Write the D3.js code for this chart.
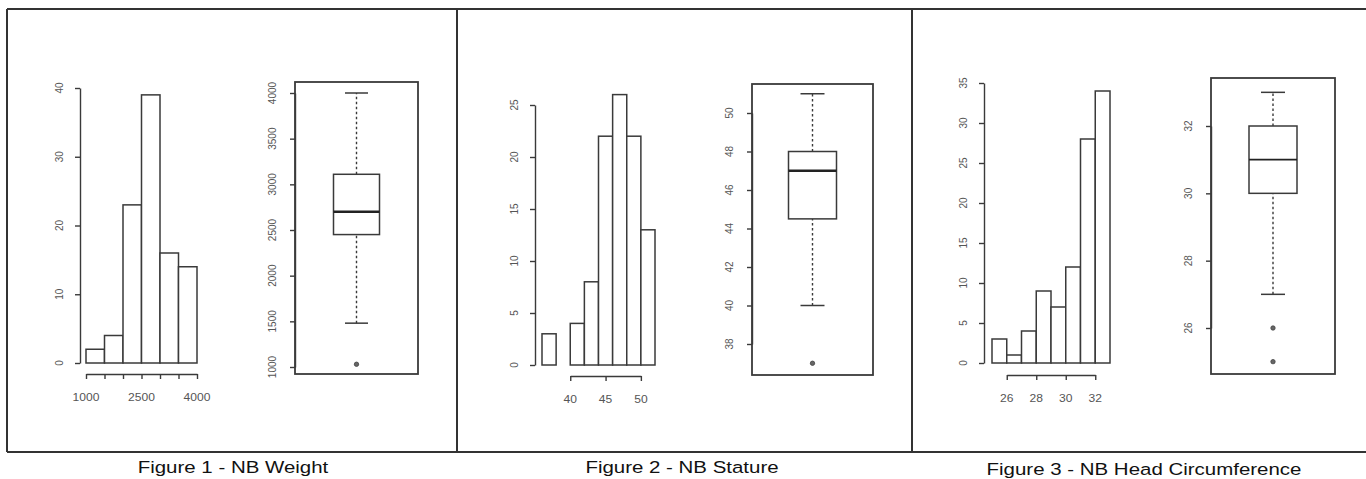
<!DOCTYPE html>
<html>
<head>
<meta charset="utf-8">
<script src="https://cdn.jsdelivr.net/npm/d3@7"></script>
<style>
  html, body { margin: 0; padding: 0; background: #fff; overflow: hidden; }
</style>
</head>
<body>
<div id="chart"></div>
<script>
// ---- data ----
// Figure 1 - NB Weight
var weightBreaks = [1000, 1500, 2000, 2500, 3000, 3500, 4000];
var weightCounts = [2, 4, 23, 39, 16, 14];
var weightHistXTicks = [1000, 1500, 2000, 2500, 3000, 3500, 4000];
var weightHistXLabels = [1000, 2500, 4000];
var weightHistYTicks = [0, 10, 20, 30, 40];
var weightBox = [1480, 2450, 2700, 3110, 4000];   // low whisker, Q1, median, Q3, high whisker
var weightOutliers = [1030];
var weightBoxYTicks = [1000, 1500, 2000, 2500, 3000, 3500, 4000];

// Figure 2 - NB Stature
var statureBreaks = [36, 38, 40, 42, 44, 46, 48, 50, 52];
var statureCounts = [3, 0, 4, 8, 22, 26, 22, 13];
var statureHistXTicks = [40, 45, 50];
var statureHistXLabels = [40, 45, 50];
var statureHistYTicks = [0, 5, 10, 15, 20, 25];
var statureBox = [40, 44.5, 47, 48, 51];
var statureOutliers = [37];
var statureBoxYTicks = [38, 40, 42, 44, 46, 48, 50];

// Figure 3 - NB Head Circumference
var headBreaks = [25, 26, 27, 28, 29, 30, 31, 32, 33];
var headCounts = [3, 1, 4, 9, 7, 12, 28, 34];
var headHistXTicks = [26, 28, 30, 32];
var headHistXLabels = [26, 28, 30, 32];
var headHistYTicks = [0, 5, 10, 15, 20, 25, 30, 35];
var headBox = [27, 30, 31, 32, 33];
var headOutliers = [26, 25];
var headBoxYTicks = [26, 28, 30, 32];

var captions = ["Figure 1 - NB Weight", "Figure 2 - NB Stature", "Figure 3 - NB Head Circumference"];

// ---- layout ----
var W = 1366, H = 479;
var FONT = "'Liberation Sans', Arial, sans-serif";
var LINE = "#3a3a3a";
var LABEL = "#555";

var svg = d3.select("#chart").append("svg")
  .attr("width", W).attr("height", H)
  .style("display", "block")
  .style("background", "#fff");

// outer frame and separators
var FRAME = { left: 7, top: 9, bottom: 452, seps: [457, 912] };
svg.append("line").attr("x1", FRAME.left).attr("x2", W).attr("y1", FRAME.top).attr("y2", FRAME.top)
  .attr("stroke", "#333").attr("stroke-width", 2);
svg.append("line").attr("x1", FRAME.left).attr("x2", W).attr("y1", FRAME.bottom).attr("y2", FRAME.bottom)
  .attr("stroke", "#333").attr("stroke-width", 2);
[FRAME.left].concat(FRAME.seps).forEach(function (x) {
  svg.append("line").attr("x1", x).attr("x2", x).attr("y1", FRAME.top).attr("y2", FRAME.bottom)
    .attr("stroke", "#333").attr("stroke-width", 2);
});

// panel geometry (pixel positions of the plot regions)
var panels = [
  {
    breaks: weightBreaks, counts: weightCounts,
    hxTicks: weightHistXTicks, hxLabels: weightHistXLabels, hyTicks: weightHistYTicks,
    box: weightBox, out: weightOutliers, byTicks: weightBoxYTicks,
    hist: { x: [86, 197], y: [363, 88], axisX: 80, axisY: 374 },
    boxG: { frame: [295, 82, 418, 374], y: [367, 93], hw: 23 },
    medianW: 2.6,
    caption: { x: 233, y: 473 }
  },
  {
    breaks: statureBreaks, counts: statureCounts,
    hxTicks: statureHistXTicks, hxLabels: statureHistXLabels, hyTicks: statureHistYTicks,
    box: statureBox, out: statureOutliers, byTicks: statureBoxYTicks,
    hist: { x: [542, 655], y: [365, 105], axisX: 535, axisY: 376 },
    boxG: { frame: [752, 84, 873, 375], y: [344, 113], hw: 24 },
    medianW: 2.6,
    caption: { x: 682, y: 473 }
  },
  {
    breaks: headBreaks, counts: headCounts,
    hxTicks: headHistXTicks, hxLabels: headHistXLabels, hyTicks: headHistYTicks,
    box: headBox, out: headOutliers, byTicks: headBoxYTicks,
    hist: { x: [992, 1110], y: [363, 83], axisX: 984, axisY: 375 },
    boxG: { frame: [1211, 78, 1335, 374], y: [328, 126], hw: 24 },
    medianW: 1.8,
    caption: { x: 1144, y: 475 }
  }
];

function styleAxis(a) {
  a.select(".domain").attr("stroke", LINE).attr("stroke-width", 1.4);
  a.selectAll(".tick line").attr("stroke", LINE).attr("stroke-width", 1.4);
  a.selectAll(".tick text").remove();
}

function yLabels(g, ticks, ys, cx) {
  g.selectAll(null).data(ticks).enter().append("text")
    .attr("transform", function (d) { return "translate(" + cx + "," + ys(d) + ") rotate(-90)"; })
    .attr("text-anchor", "middle").attr("dominant-baseline", "central")
    .attr("fill", LABEL).attr("font-size", "10px").attr("font-family", FONT)
    .text(function (d) { return d; });
}

panels.forEach(function (p, i) {
  var g = svg.append("g");

  // ---------- histogram ----------
  var h = p.hist;
  var xs = d3.scaleLinear().domain(d3.extent(p.breaks)).range(h.x);
  var ys = d3.scaleLinear().domain(d3.extent(p.hyTicks)).range(h.y);

  var bins = p.counts.map(function (c, k) { return { x0: p.breaks[k], x1: p.breaks[k + 1], n: c }; });
  g.selectAll("rect.bar").data(bins.filter(function (b) { return b.n > 0; }))
    .enter().append("rect").attr("class", "bar")
    .attr("x", function (b) { return xs(b.x0); })
    .attr("width", function (b) { return xs(b.x1) - xs(b.x0); })
    .attr("y", function (b) { return ys(b.n); })
    .attr("height", function (b) { return ys(0) - ys(b.n); })
    .attr("fill", "#fff").attr("stroke", LINE).attr("stroke-width", 1.5);

  var yAx = g.append("g").attr("transform", "translate(" + h.axisX + ",0)")
    .call(d3.axisLeft(ys).tickValues(p.hyTicks).tickSizeInner(5).tickSizeOuter(0));
  styleAxis(yAx);
  yLabels(g, p.hyTicks, ys, h.axisX - 21);

  var xt = d3.extent(p.hxTicks);
  var xAxScale = d3.scaleLinear().domain(xt).range(xt.map(xs));
  var xAx = g.append("g").attr("transform", "translate(0," + h.axisY + ")")
    .call(d3.axisBottom(xAxScale).tickValues(p.hxTicks).tickSizeInner(5).tickSizeOuter(0));
  styleAxis(xAx);
  g.selectAll(null).data(p.hxLabels).enter().append("text")
    .attr("transform", function (d) { return "translate(" + xs(d) + "," + (h.axisY + 27) + ") scale(1.15,1)"; })
    .attr("text-anchor", "middle")
    .attr("fill", LABEL).attr("font-size", "10.5px").attr("font-family", FONT)
    .text(function (d) { return d; });

  // ---------- boxplot ----------
  var b = p.boxG;
  var by = d3.scaleLinear().domain(d3.extent(p.byTicks)).range(b.y);
  var cx = (b.frame[0] + b.frame[2]) / 2;
  var bg = svg.append("g");

  bg.append("rect")
    .attr("x", b.frame[0]).attr("y", b.frame[1])
    .attr("width", b.frame[2] - b.frame[0]).attr("height", b.frame[3] - b.frame[1])
    .attr("fill", "none").attr("stroke", LINE).attr("stroke-width", 1.8);

  var bAx = bg.append("g").attr("transform", "translate(" + b.frame[0] + ",0)")
    .call(d3.axisLeft(by).tickValues(p.byTicks).tickSizeInner(5).tickSizeOuter(0));
  styleAxis(bAx);
  yLabels(bg, p.byTicks, by, b.frame[0] - 23);

  var s = p.box;
  // whiskers
  [[s[0], s[1]], [s[3], s[4]]].forEach(function (w) {
    bg.append("line").attr("x1", cx).attr("x2", cx)
      .attr("y1", by(w[0])).attr("y2", by(w[1]))
      .attr("stroke", LINE).attr("stroke-width", 1.4).attr("stroke-dasharray", "2.5,2.5");
  });
  [s[0], s[4]].forEach(function (v) {
    bg.append("line").attr("x1", cx - b.hw / 2).attr("x2", cx + b.hw / 2)
      .attr("y1", by(v)).attr("y2", by(v))
      .attr("stroke", LINE).attr("stroke-width", 1.5);
  });
  bg.append("rect")
    .attr("x", cx - b.hw).attr("width", b.hw * 2)
    .attr("y", by(s[3])).attr("height", by(s[1]) - by(s[3]))
    .attr("fill", "#fff").attr("stroke", LINE).attr("stroke-width", 1.5);
  bg.append("line").attr("x1", cx - b.hw).attr("x2", cx + b.hw)
    .attr("y1", by(s[2])).attr("y2", by(s[2]))
    .attr("stroke", "#222").attr("stroke-width", p.medianW);
  bg.selectAll(null).data(p.out).enter().append("circle")
    .attr("cx", cx).attr("cy", function (d) { return by(d); })
    .attr("r", 2.2).attr("fill", "#666").attr("stroke", "#444").attr("stroke-width", 0.8);

  // ---------- caption ----------
  svg.append("text")
    .attr("transform", "translate(" + p.caption.x + "," + p.caption.y + ") scale(1.24,1)")
    .attr("text-anchor", "middle")
    .attr("fill", "#111").attr("font-size", "16.5px").attr("font-family", FONT)
    .text(captions[i]);
});
</script>
</body>
</html>
